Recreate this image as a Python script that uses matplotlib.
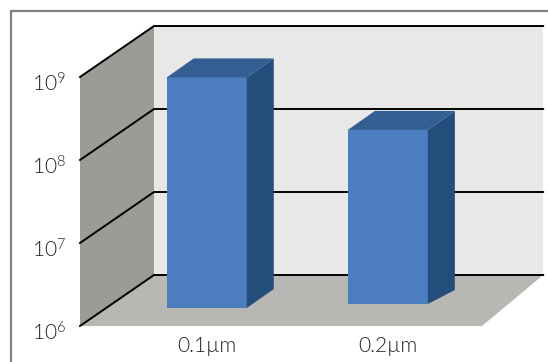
import numpy as np
import matplotlib
matplotlib.use('Agg')
import matplotlib.pyplot as plt
from matplotlib.lines import Line2D
from matplotlib.patches import Polygon
from matplotlib.ticker import FixedLocator, LogFormatterMathtext, NullLocator
from matplotlib.transforms import Affine2D, IdentityTransform

categories = ['0.1µm', '0.2µm']
positions = [0, 1]
values = [6.0e8, 1.25e8]
decades = [1e6, 1e7, 1e8, 1e9]

plt.rcParams['font.family'] = ['Lato', 'DejaVu Sans']
plt.rcParams['font.weight'] = 300
plt.rcParams['mathtext.default'] = 'regular'
plt.rcParams['text.color'] = '#222222'

W, H = 548, 362
fig = plt.figure(figsize=(W/100, H/100), dpi=100, facecolor='white')

# axes sit on the front plane of the box, walls are shifted back from it
ax = fig.add_axes([80/W, (H-326)/H, 402/W, 249/H])
ax.set_yscale('log')
ax.set_ylim(1e6, 1e9)
ax.set_xlim(-0.70, 1.52)
ax.patch.set_visible(False)
for s in ax.spines.values():
    s.set_visible(False)
ax.yaxis.set_major_locator(FixedLocator(decades))
ax.yaxis.set_major_formatter(LogFormatterMathtext())
ax.yaxis.set_minor_locator(NullLocator())
ax.set_xticks(positions, categories)
ax.tick_params(axis='both', length=0, labelsize=15, labelcolor='#222222')
ax.tick_params(axis='y', pad=10)
ax.tick_params(axis='x', pad=7.5)
# labels hang a little below their gridline
for tick in ax.yaxis.get_major_ticks():
    tick.label1.set_transform(tick.label1.get_transform() + Affine2D().translate(0, -5))


def pt(x, v, dx=0, dy=0):
    # data point to pixels, plus an oblique shift in pixels
    return ax.transData.transform((x, v)) + np.array([dx, dy])


def poly(points, color, zorder, edge='none', lw=0):
    ax.add_patch(Polygon(points, closed=True, facecolor=color, edgecolor=edge, linewidth=lw,
                         transform=IdentityTransform(), clip_on=False, zorder=zorder))


# depth of the box in pixels
back = (74, 51)
x0, x1 = ax.get_xlim()
back_right = x0 + 389/181

# back wall, side wall, floor
poly([pt(x0, 1e6, *back), pt(back_right, 1e6, *back), pt(back_right, 1e9, *back), pt(x0, 1e9, *back)], '#e8e8e7', 1)
poly([pt(x0, 1e6), pt(x0, 1e6, *back), pt(x0, 1e9, *back), pt(x0, 1e9)], '#9c9b95', 1)
poly([pt(x0, 1e6), pt(x1, 1e6), pt(back_right, 1e6, *back), pt(x0, 1e6, *back)], '#b8b7b3', 1)

# gridlines go along the side wall then across the back
for d in decades:
    a = pt(x0, d)
    b = pt(x0, d, *back)
    c = pt(back_right, d, *back)
    ax.add_line(Line2D([a[0], b[0], c[0]], [a[1], b[1], c[1]], color='black', lw=1.4,
                       transform=IdentityTransform(), clip_on=False, zorder=2,
                       solid_joinstyle='round'))

# bars: front face is lifted off the front edge of the floor
bar_half = 40/181
lifts = [18, 22]
side_base = [19, 14]
for x, v, lift, sb in zip(positions, values, lifts, side_base):
    fl, fr = x - bar_half, x + bar_half
    poly([pt(fl, 1e6, 0, lift), pt(fr, 1e6, 0, lift), pt(fr, v, 0, lift), pt(fl, v, 0, lift)], '#4c7ebf', 3)
    poly([pt(fr, 1e6, 0, lift), pt(fr, 1e6, 27, lift+sb), pt(fr, v, 27, lift+19), pt(fr, v, 0, lift)], '#234d7b', 3)
    poly([pt(fl, v, 0, lift), pt(fr, v, 0, lift), pt(fr, v, 27, lift+19), pt(fl, v, 27, lift+19)], '#335f92', 3)

# chart frame only shows on the top and left
fig.add_artist(Line2D([11/W, 11/W, 1], [0, (H-11)/H, (H-11)/H], color='#808080', lw=1.6,
                      transform=fig.transFigure))

fig.savefig('out.png', dpi=100)
